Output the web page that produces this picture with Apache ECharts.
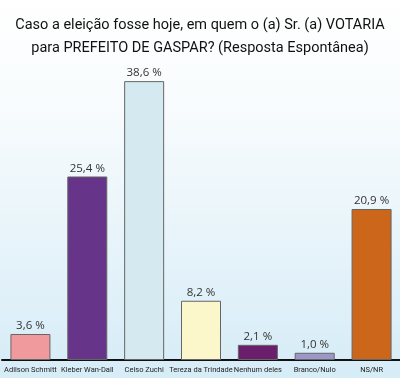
<!DOCTYPE html>
<html>
<head>
<meta charset="UTF-8">
<script src="https://cdn.jsdelivr.net/npm/echarts@6/dist/echarts.min.js"></script>
<title>Gaspar</title>
<style>
html,body{margin:0;padding:0;}
#chart{width:400px;height:378px;}
</style>
</head>
<body>
<div id="chart"></div>
<script>
var titulo = 'Caso a eleição fosse hoje, em quem o (a) Sr. (a) VOTARIA\npara PREFEITO DE GASPAR? (Resposta Espontânea)';
var candidatos = ['Adilson Schmitt', 'Kleber Wan-Dall', 'Celso Zuchi', 'Tereza da Trindade', 'Nenhum deles', 'Branco/Nulo', 'NS/NR'];
var percentuais = [3.6, 25.4, 38.6, 8.2, 2.1, 1.0, 20.9];
var cores = ['#f09a9e', '#663489', '#d4e9f0', '#fbf7cb', '#6a1e6c', '#9c97cb', '#cc661a'];

var chart = echarts.init(document.getElementById('chart'));
var dados = [];
for (var i = 0; i < percentuais.length; i++) {
	dados.push({ value: percentuais[i], itemStyle: { color: cores[i] } });
}
var option = {
	backgroundColor: new echarts.graphic.LinearGradient(0, 0, 0, 1, [
		{ offset: 0, color: '#ffffff' },
		{ offset: 0.3, color: '#f7fbfd' },
		{ offset: 1, color: '#d6ecf7' }
	]),
	title: {
		text: titulo,
		left: 'center',
		top: 9,
		textStyle: {
			fontFamily: 'Roboto',
			fontWeight: 'normal',
			fontSize: 14.5,
			lineHeight: 23,
			color: '#111'
		}
	},
	grid: { left: 2, right: 0, top: 71, bottom: 18 },
	xAxis: {
		type: 'category',
		data: candidatos,
		axisTick: { show: false },
		axisLine: { lineStyle: { color: '#111', width: 2 } },
		axisLabel: {
			interval: 0,
			margin: 6,
			fontFamily: 'Roboto',
			fontSize: 7.5,
			color: '#222'
		}
	},
	yAxis: {
		type: 'value',
		min: 0,
		max: 40,
		show: false
	},
	series: [{
		type: 'bar',
		barWidth: 40,
		data: dados,
		itemStyle: { borderColor: '#666', borderWidth: 1 },
		label: {
			show: true,
			position: 'top',
			distance: 2,
			fontFamily: 'Open Sans',
			fontSize: 11.5,
			color: '#333',
			formatter: function (p) {
				return p.value.toFixed(1).replace('.', ',') + ' %';
			}
		}
	}]
};
chart.setOption(option);
</script>
</body>
</html>
